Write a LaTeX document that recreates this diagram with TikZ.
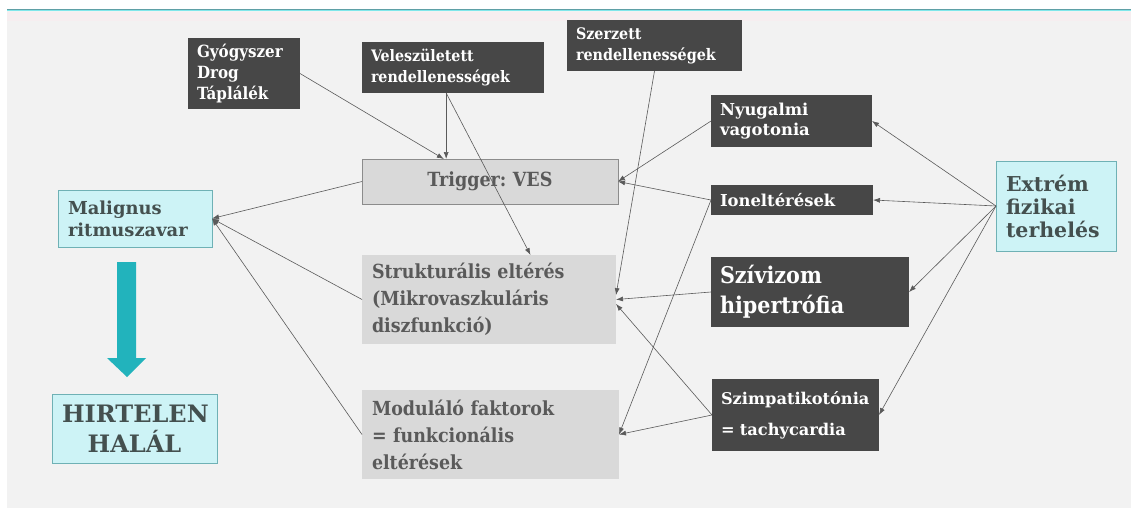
\documentclass[tikz,border=0pt]{standalone}
\usepackage{fontspec}
\newfontfamily\palafont{DejaVu Serif Condensed}
\newfontfamily\centfont{DejaVu Serif}
\usetikzlibrary{arrows.meta}
\frenchspacing

\definecolor{bgc}{HTML}{F2F2F2}
\definecolor{boxdark}{HTML}{474747}
\definecolor{boxgrey}{HTML}{D9D9D9}
\definecolor{txtgrey}{HTML}{5A5A5A}
\definecolor{cyanfill}{HTML}{CDF3F6}
\definecolor{cyanline}{HTML}{6FB1B5}
\definecolor{txtcyan}{HTML}{44504F}
\definecolor{linegrey}{HTML}{5A5A5A}
\definecolor{bigarrow}{HTML}{22B3BC}
\definecolor{topline}{HTML}{5FA0A6}
\definecolor{topcyan}{HTML}{80E6EA}
\definecolor{toppink}{HTML}{F6EEF0}

\begin{document}
\begin{tikzpicture}[x=1pt, y=-1pt, outer sep=0pt,
	dbox/.style={fill=boxdark, text=white, anchor=north west, align=left, inner xsep=9pt, inner ysep=0pt},
	gbox/.style={fill=boxgrey, text=txtgrey, anchor=north west, align=left, inner xsep=10pt, inner ysep=0pt},
	cbox/.style={fill=cyanfill, draw=cyanline, line width=0.8pt, text=txtcyan, anchor=north west, align=left, inner xsep=10pt, inner ysep=0pt},
	conn/.style={draw=linegrey, line width=0.6pt, -{Latex[length=7pt,width=5pt]}}]
	\useasboundingbox (0,0) rectangle (1131,517);
	\fill[white] (0,0) rectangle (1131,517);
	\fill[bgc] (7,10) rectangle (1131,508);
	\fill[toppink] (7,12) rectangle (1131,21);
	\draw[topline, line width=1pt] (7,9) -- (1131,9);
	\draw[topcyan, line width=1pt] (7,10.5) -- (1131,10.5);
	%%%%%%%%%%%%%
	\node[dbox, minimum width=112, minimum height=71, text width=94, font=\palafont\bfseries\fontsize{16.8}{21}\selectfont] (gyogy) at (188,38) {Gyógyszer\\Drog\\Táplálék};
	\node[dbox, minimum width=182, minimum height=51, text width=164, font=\palafont\bfseries\fontsize{15.8}{20.5}\selectfont] (velesz) at (362,42) {Veleszületett\\rendellenességek};
	\node[dbox, minimum width=175, minimum height=51, text width=157, font=\palafont\bfseries\fontsize{15.9}{21}\selectfont] (szerz) at (567,20) {Szerzett\\rendellenességek};
	\node[gbox, draw=gray!90, line width=0.8pt, align=center, minimum width=256, minimum height=45, text width=236, font=\palafont\bfseries\fontsize{19.5}{23}\selectfont] (trig) at (362,159) {Trigger: VES};
	\node[gbox, minimum width=254, minimum height=89, text width=234, font=\palafont\bfseries\fontsize{19.4}{27}\selectfont] (strukt) at (362,255) {Strukturális eltérés\\(Mikrovaszkuláris\\diszfunkció)};
	\node[gbox, minimum width=257, minimum height=89, text width=237, font=\palafont\bfseries\fontsize{19.4}{27}\selectfont] (modul) at (362,390) {Moduláló faktorok\\= funkcionális\\eltérések};
	\node[cbox, minimum width=154, minimum height=57, text width=134, font=\centfont\bfseries\fontsize{17.9}{22}\selectfont] (malig) at (58,190) {Malignus\\ritmuszavar};
	\node[cbox, align=center, minimum width=165, minimum height=69, text width=145, font=\centfont\bfseries\fontsize{24}{30}\selectfont] (hirt) at (52,394) {HIRTELEN\\HALÁL};
	\node[dbox, minimum width=161, minimum height=52, text width=143, font=\centfont\bfseries\fontsize{16.4}{20}\selectfont] (nyug) at (711,95) {Nyugalmi\\vagotonia};
	\node[dbox, minimum width=162, minimum height=30, text width=144, font=\centfont\bfseries\fontsize{16.4}{20}\selectfont] (ion) at (711,185) {Ioneltérések};
	\node[dbox, minimum width=198, minimum height=70, text width=180, font=\palafont\bfseries\fontsize{23}{30}\selectfont] (szivi) at (711,257) {Szívizom\\hipertrófia};
	\node[dbox, minimum width=167, minimum height=72, text width=149, font=\centfont\bfseries\fontsize{16.2}{20}\selectfont] (szimp) at (712,379) {Szimpatikotónia\\[11pt]= tachycardia};
	\node[cbox, minimum width=120, minimum height=90, text width=100, font=\centfont\bfseries\fontsize{20.5}{23}\selectfont] (extrem) at (996,161) {Extrém\\fizikai\\terhelés};
	%%%%%%%%%%%%%
	\fill[bigarrow] (117,262) -- (136,262) -- (136,358) -- (146,358) -- (127,377) -- (107,358) -- (117,358) -- cycle;
	%%%%%%%%%%%%%
	\draw[conn] (gyogy.east) -- (trig.154);
	\draw[conn] (velesz.255) -- (velesz.255 |- trig.north);
	\draw[conn] (velesz.255) -- (strukt.47);
	\draw[conn] (szerz.south) -- (strukt.2);
	\draw[conn] (nyug.west) -- (trig.east);
	\draw[conn] (ion.west) -- (trig.east);
	\draw[conn] (ion.west) -- (modul.east);
	\draw[conn] (szivi.west) -- (strukt.east);
	\draw[conn] (szimp.west) -- (strukt.-2);
	\draw[conn] (szimp.west) -- (modul.east);
	\foreach \t in {nyug, ion, szivi, szimp}
		\draw[conn] (extrem.west) -- (\t.east);
	\foreach \s in {trig, strukt, modul}
		\draw[conn] (\s.west) -- (malig.east);
\end{tikzpicture}
\end{document}
